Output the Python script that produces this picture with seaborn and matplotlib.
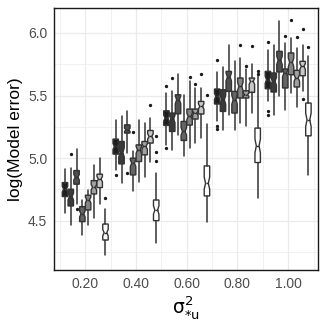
"""plot.py

Notched boxplots of log(Model error) against the variance sigma^2_*u,
one box per method (grey fill levels) dodged around each variance value.
"""

# Third-party imports
import matplotlib as mpl
import matplotlib.pyplot as plt
import numpy as np
import pandas as pd
import seaborn as sns

# Variance values on the x axis
sigma_u2 = [0.2, 0.4, 0.6, 0.8, 1.0]

# Method levels (one box per level in every group)
methods = ['M1', 'M2', 'M3', 'M4', 'M5', 'M6', 'M7', 'M8']

# Box statistics, one row per variance value, one column per method
whisker_low = [[4.565, 4.466, 4.630, 4.386, 4.466, 4.520, 4.634, 4.226],
               [4.906, 4.800, 5.040, 4.741, 4.813, 4.853, 4.973, 4.320],
               [5.106, 5.061, 5.186, 5.018, 5.080, 5.120, 5.160, 4.493],
               [5.293, 5.226, 5.346, 5.226, 5.280, 5.253, 5.360, 4.680],
               [5.453, 5.346, 5.493, 5.386, 5.520, 5.405, 5.533, 4.866]]

lower_hinge = [[4.693, 4.618, 4.792, 4.493, 4.586, 4.714, 4.765, 4.346],
               [5.032, 4.954, 5.200, 4.866, 4.973, 5.026, 5.120, 4.501],
               [5.261, 5.213, 5.354, 5.141, 5.264, 5.312, 5.352, 4.698],
               [5.432, 5.373, 5.533, 5.360, 5.480, 5.480, 5.525, 4.965],
               [5.554, 5.528, 5.688, 5.560, 5.666, 5.568, 5.658, 5.178]]

median = [[4.752, 4.693, 4.848, 4.554, 4.666, 4.768, 4.832, 4.405],
          [5.093, 5.045, 5.226, 4.960, 5.066, 5.093, 5.173, 4.586],
          [5.320, 5.312, 5.466, 5.213, 5.333, 5.360, 5.413, 4.800],
          [5.493, 5.466, 5.648, 5.466, 5.573, 5.506, 5.613, 5.098],
          [5.626, 5.613, 5.781, 5.680, 5.765, 5.640, 5.733, 5.306]]

upper_hinge = [[4.805, 4.752, 4.901, 4.613, 4.704, 4.821, 4.872, 4.474],
               [5.152, 5.133, 5.266, 5.000, 5.106, 5.133, 5.221, 4.666],
               [5.378, 5.360, 5.506, 5.293, 5.392, 5.392, 5.453, 4.938],
               [5.552, 5.546, 5.693, 5.533, 5.640, 5.538, 5.640, 5.240],
               [5.693, 5.680, 5.853, 5.712, 5.840, 5.701, 5.773, 5.440]]

whisker_high = [[4.912, 4.920, 5.072, 4.666, 4.746, 4.946, 5.000, 4.594],
                [5.301, 5.338, 5.373, 5.053, 5.306, 5.280, 5.320, 4.885],
                [5.520, 5.538, 5.674, 5.506, 5.613, 5.560, 5.560, 5.274],
                [5.685, 5.728, 5.906, 5.773, 5.800, 5.712, 5.754, 5.653],
                [5.861, 5.906, 6.093, 5.920, 5.960, 5.880, 5.906, 5.813]]

outliers = [[[], [5.034], [4.594], [], [], [], [], [4.685]],
            [[4.866], [], [4.885], [5.208], [], [], [5.426], [5.173, 5.048, 4.980]],
            [[5.573, 5.080], [5.640], [], [], [5.648], [5.594], [5.674], [5.506]],
            [[5.781, 5.258, 5.232], [], [], [], [5.906], [5.738], [5.893], [5.693, 5.672]],
            [[5.925, 5.373, 5.346], [], [], [5.978], [6.106], [5.968], [6.032, 5.472], [5.885]]]

# Number of replications behind each box (sets the notch size)
n_reps = 60

# Grey fill for each method, dark to white
fills = ['#1e1e1e', '#3a3a3a', '#4f4f4f', '#646464', '#858585', '#a2a2a2', '#c8c8c8', '#ffffff']


def _build_stats_table() -> pd.DataFrame:
    """
    Build a long table with one row of box statistics per (variance, method).
    """

    rows = []
    for i, x in enumerate(sigma_u2):
        for j, method in enumerate(methods):
            rows.append({'sigma_u2': x,
                         'method': method,
                         'slot': j,
                         'whislo': whisker_low[i][j],
                         'q1': lower_hinge[i][j],
                         'med': median[i][j],
                         'q3': upper_hinge[i][j],
                         'whishi': whisker_high[i][j],
                         'fliers': outliers[i][j]})

    return pd.DataFrame(rows)


def _draw_boxes(table: pd.DataFrame, ax: mpl.axes.Axes):
    """
    Draw the notched, dodged boxplots from the statistics table.
    """

    dodge = 0.0228
    n_methods = len(methods)

    stats = []
    positions = []
    for _, row in table.iterrows():
        half_notch = 1.57 * (row['q3'] - row['q1']) / np.sqrt(n_reps)
        stats.append({'whislo': row['whislo'], 'q1': row['q1'], 'med': row['med'],
                      'q3': row['q3'], 'whishi': row['whishi'],
                      'cilo': row['med'] - half_notch, 'cihi': row['med'] + half_notch,
                      'fliers': np.array(row['fliers'])})
        positions.append(row['sigma_u2'] + (row['slot'] - (n_methods - 1) / 2) * dodge)

    parts = ax.bxp(stats,
                   positions=positions,
                   widths=0.0215,
                   shownotches=True,
                   showcaps=False,
                   patch_artist=True,
                   manage_ticks=False,
                   boxprops={'edgecolor': '#333333', 'linewidth': 1.0},
                   whiskerprops={'color': '#333333', 'linewidth': 1.1},
                   medianprops={'color': '#333333', 'linewidth': 1.0},
                   flierprops={'marker': 'o', 'markersize': 2.4,
                               'markerfacecolor': '#1a1a1a', 'markeredgewidth': 0})

    # Fill each box with the grey of its method
    for box, slot in zip(parts['boxes'], table['slot']):
        box.set_facecolor(fills[slot])


# Theme similar to a ggplot black-and-white theme
sns.set_theme(style='whitegrid')
plt.rcParams['font.family'] = ['Liberation Sans', 'DejaVu Sans']

fig = plt.figure(figsize=(3.27, 3.27), dpi=100)
ax = fig.add_axes([0.166, 0.174, 0.806, 0.802])

_draw_boxes(_build_stats_table(), ax)

# Axis limits and ticks
ax.set_xlim(0.078, 1.117)
ax.set_ylim(4.106, 6.2)
ax.set_xticks(sigma_u2)
ax.set_xticklabels([f'{x:.2f}' for x in sigma_u2])
ax.set_yticks([4.5, 5.0, 5.5, 6.0])
ax.set_yticklabels(['4.5', '5.0', '5.5', '6.0'])
ax.xaxis.set_minor_locator(mpl.ticker.MultipleLocator(0.1))
ax.yaxis.set_minor_locator(mpl.ticker.MultipleLocator(0.25))

# Grid and panel border
ax.set_axisbelow(True)
ax.grid(True, which='major', color='#ebebeb', linewidth=0.9)
ax.grid(True, which='minor', color='#ebebeb', linewidth=0.5)
for spine in ax.spines.values():
    spine.set_edgecolor('#1a1a1a')
    spine.set_linewidth(1.0)

ax.tick_params(axis='both', which='major', direction='out', length=3, width=0.8,
               color='#333333', labelcolor='#4d4d4d', labelsize=10, pad=2)
ax.tick_params(axis='both', which='minor', length=0)

ax.set_xlabel(r'$\mathrm{\sigma}^2_{*\mathrm{u}}$', fontsize=13.5, color='black', labelpad=2)
ax.set_ylabel('log(Model error)', fontsize=12.5, color='black', labelpad=4)

fig.savefig('out.png', dpi=100)
